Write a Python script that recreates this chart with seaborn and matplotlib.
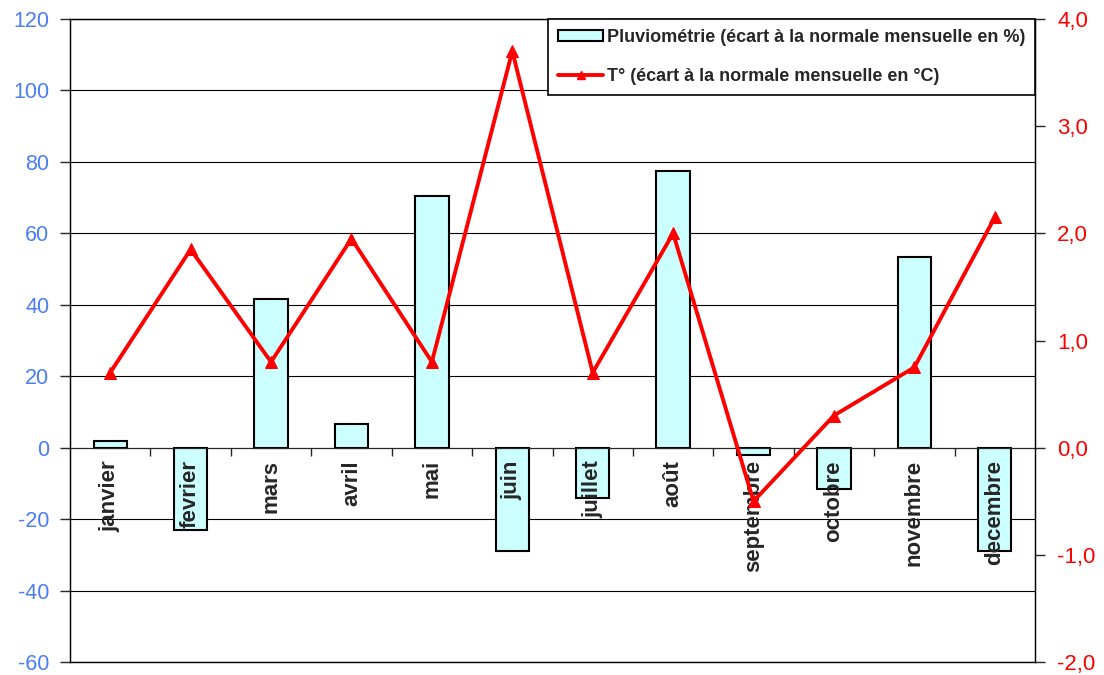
import numpy as np
import pandas as pd
import seaborn as sns
import matplotlib.pyplot as plt
from matplotlib.patches import Patch
from matplotlib.lines import Line2D
from matplotlib.ticker import FuncFormatter, MultipleLocator

months = ["janvier", "fevrier", "mars", "avril", "mai", "juin", "juillet",
          "août", "septembre", "octobre", "novembre", "decembre"]
# ecart a la normale mensuelle, pluie en %
pluvio = [2, -23, 41.5, 6.5, 70.5, -29, -14, 77.5, -2, -11.5, 53.5, -29]
# ecart a la normale mensuelle, temperature en °C
temp = [0.7, 1.85, 0.8, 1.95, 0.8, 3.7, 0.7, 2.0, -0.5, 0.3, 0.75, 2.15]

sns.set_style("ticks")
plt.rcParams['font.family'] = ['Liberation Sans', 'DejaVu Sans']
plt.rcParams['axes.unicode_minus'] = False

df = pd.DataFrame({'mois': months, 'pluvio': pluvio, 'temp': temp})

fig = plt.figure(figsize=(11.04, 6.75), dpi=100)
ax = fig.add_axes([70/1104, 13/675, 965/1104, 643/675])

# bars (left axis)
sns.barplot(data=df, x='mois', y='pluvio', color='#ccffff', saturation=1,
            edgecolor='black', linewidth=1.5, width=0.415, ax=ax)
ax.set_xlim(-0.5, 11.5)
ax.set_ylim(-60, 120)
ax.set_yticks(range(-60, 121, 20))
ax.yaxis.grid(True, color='black', lw=0.8)
ax.set_axisbelow(True)
ax.set_xlabel('')
ax.set_ylabel('')

# x axis sits on the zero line, ticks between months
ax.spines['bottom'].set_position(('data', 0))
ax.set_xticks(np.arange(0.5, 11, 1))
ax.tick_params(axis='x', direction='out', length=6, width=1, labelbottom=False)
ax.tick_params(axis='y', direction='out', length=7, width=1, pad=8,
               labelsize=15.5, labelcolor='#4a7ef5')

for i, m in enumerate(months):
    ax.text(i, -3.5, m, rotation=90, ha='center', va='top',
            fontsize=16, fontweight='bold')

# temperature line (right axis)
ax2 = ax.twinx()
sns.lineplot(x=np.arange(len(temp)), y=temp, ax=ax2, color='red', lw=2.8,
             marker='^', markersize=8, markeredgecolor='red')
ax2.set_xlim(-0.5, 11.5)
ax2.set_ylim(-2, 4)
ax2.yaxis.set_major_locator(MultipleLocator(1))
ax2.yaxis.set_major_formatter(FuncFormatter(lambda v, p: f"{v:.1f}".replace('.', ',')))
ax2.tick_params(axis='y', direction='out', length=7, width=1, pad=9,
                labelsize=16, labelcolor='red')
ax2.set_ylabel('')
for s in ax2.spines.values():
    s.set_color('black')
    s.set_linewidth(1)

handles = [
    Patch(facecolor='#ccffff', edgecolor='black', lw=1.5,
          label='Pluviométrie (écart à la normale mensuelle en %)'),
    Line2D([], [], color='red', lw=2.8, marker='^', markersize=6,
           label='T° (écart à la normale mensuelle en °C)'),
]
leg = ax2.legend(handles=handles, loc='upper right', borderaxespad=0,
                 frameon=True, fancybox=False, edgecolor='black', framealpha=1,
                 prop={'weight': 'bold', 'size': 13}, handlelength=2.5,
                 handleheight=0.5, labelspacing=1.2, handletextpad=0.2,
                 borderpad=0.55)
leg.get_frame().set_linewidth(1.2)

fig.savefig('out.png', dpi=100)
